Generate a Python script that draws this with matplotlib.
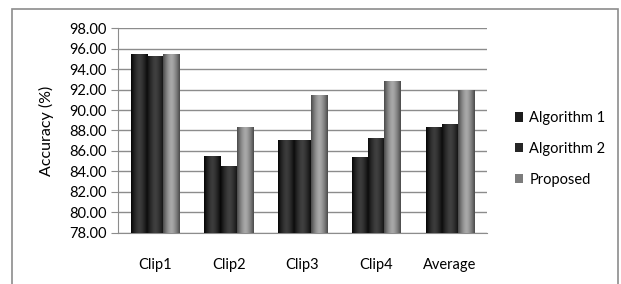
import numpy as np
import matplotlib.pyplot as plt
from matplotlib.colors import LinearSegmentedColormap

plt.rcParams['font.family'] = ['Lato', 'DejaVu Sans']

categories = ['Clip1', 'Clip2', 'Clip3', 'Clip4', 'Average']
alg1 = [95.5, 85.5, 87.1, 85.4, 88.3]
alg2 = [95.3, 84.5, 87.1, 87.3, 88.6]
proposed = [95.5, 88.3, 91.5, 92.8, 92.0]
series_names = ['Algorithm 1', 'Algorithm 2', 'Proposed']
yticks = np.arange(78, 98.1, 2)

fig = plt.figure(figsize=(6.21, 2.84), dpi=100)
# outer chart frame
fig.patches.append(plt.Rectangle((12 / 621, -0.05), 606 / 621, 1.05 - 9 / 284,
                                 transform=fig.transFigure, fill=False,
                                 edgecolor='#8c8c8c', linewidth=1.2))
ax = fig.add_axes([0.190, 0.180, 0.594, 0.721])

x = np.arange(len(categories))
w = 0.22
colors = ['#1c1c1c', '#262626', '#7c7c7c']
shades = [('#050505', '#3c3c3c'), ('#0c0c0c', '#404040'), ('#4a4a4a', '#a8a8a8')]
grad = np.abs(np.linspace(-1, 1, 64)) ** 1.5
grad = 1 - grad

handles = []
for i, vals in enumerate([alg1, alg2, proposed]):
    bars = ax.bar(x + (i - 1) * w, np.array(vals) - 78, w, bottom=78,
                  color=colors[i], zorder=3, label=series_names[i])
    cmap = LinearSegmentedColormap.from_list('c%d' % i, shades[i])
    for b in bars:
        x0, y0 = b.get_x(), b.get_y()
        im = ax.imshow(grad[np.newaxis, :], cmap=cmap, aspect='auto',
                       extent=(x0, x0 + b.get_width(), y0, y0 + b.get_height()),
                       zorder=4)
        im.set_clip_path(b)
    handles.append(bars)

ax.set_xlim(-0.5, len(categories) - 0.5)
ax.set_ylim(78, 98)
ax.set_yticks(yticks)
ax.set_yticklabels(['%.2f' % t for t in yticks], fontsize=10.5)
ax.set_xticks(x)
ax.set_xticklabels(categories, fontsize=10.5)
ax.tick_params(axis='x', length=0, pad=18)
ax.tick_params(axis='y', length=5, color='#8c8c8c', pad=3)
ax.grid(axis='y', color='#8c8c8c', linewidth=1.0, zorder=0)
for s in ['top', 'right']:
    ax.spines[s].set_visible(False)
for s in ['left', 'bottom']:
    ax.spines[s].set_color('#8c8c8c')
ax.set_ylabel('Accuracy (%)', fontsize=11.5, labelpad=11)

ax.legend(handles=handles, labels=series_names, loc='center left',
          bbox_to_anchor=(1.04, 0.41), frameon=False, fontsize=10.5,
          handlelength=0.6, handleheight=0.6, handletextpad=0.4,
          labelspacing=1.15)

fig.savefig('out.png', dpi=100)
